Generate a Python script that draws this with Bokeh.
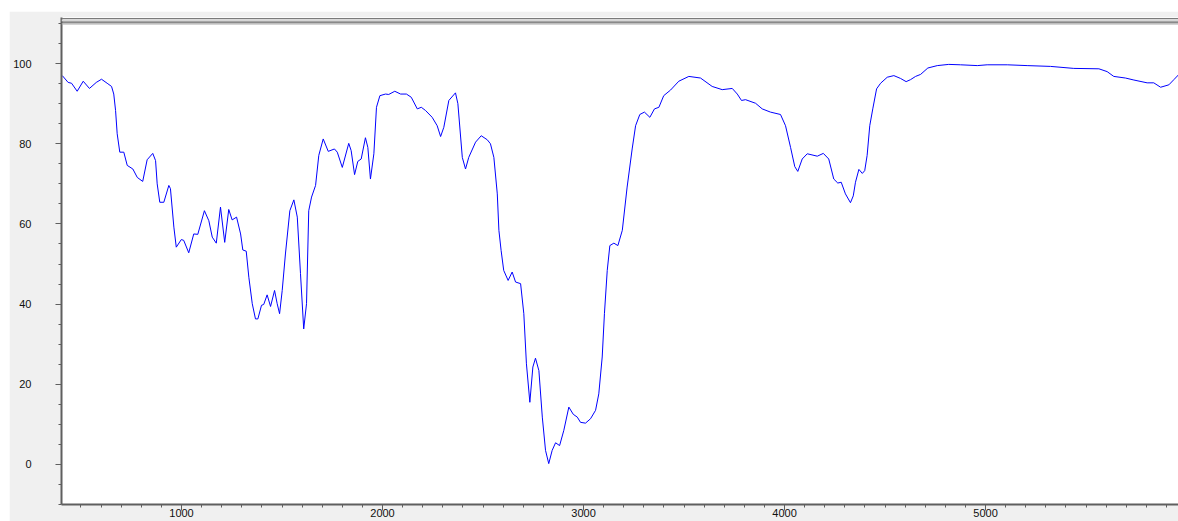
from bokeh.plotting import figure
from bokeh.models import Range1d, SingleIntervalTicker, Span, Spacer
from bokeh.layouts import column, row
from bokeh.embed import file_html
from bokeh.resources import INLINE

# Spectrum: wavenumber vs. transmittance (%)
wavenumber = [
    407, 436, 453, 481, 511, 542, 576, 602, 630, 652, 663, 672, 680, 693, 713, 730,
    758, 780, 807, 829, 857, 871, 879, 892, 912, 937, 945, 962, 974, 999, 1011, 1036,
    1061, 1081, 1114, 1136, 1153, 1173, 1194, 1215, 1235, 1252, 1274, 1294, 1305, 1322,
    1335, 1352, 1368, 1380, 1398, 1409, 1426, 1443, 1463, 1476, 1488, 1501, 1517, 1539,
    1559, 1576, 1592, 1608, 1622, 1633, 1647, 1667, 1683, 1705, 1730, 1761, 1775, 1800,
    1832, 1844, 1861, 1877, 1894, 1915, 1927, 1940, 1957, 1970, 1987, 2015, 2031, 2061,
    2090, 2119, 2143, 2173, 2193, 2214, 2247, 2272, 2289, 2305, 2330, 2363, 2375, 2397,
    2413, 2429, 2463, 2491, 2521, 2537, 2554, 2571, 2579, 2590, 2603, 2625, 2645, 2662,
    2687, 2703, 2716, 2733, 2748, 2761, 2778, 2795, 2811, 2827, 2844, 2861, 2881, 2902,
    2927, 2949, 2969, 2985, 3010, 3035, 3060, 3076, 3093, 3104, 3118, 3131, 3151, 3171,
    3193, 3217, 3242, 3259, 3280, 3303, 3330, 3353, 3375, 3399, 3433, 3474, 3524, 3582,
    3640, 3690, 3740, 3765, 3786, 3806, 3856, 3889, 3930, 3980, 4005, 4030, 4051, 4066,
    4088, 4113, 4163, 4193, 4220, 4245, 4265, 4282, 4303, 4328, 4342, 4353, 4370, 4387,
    4399, 4411, 4424, 4439, 4458, 4478, 4511, 4544, 4577, 4605, 4627, 4652, 4677, 4713,
    4760, 4817, 4876, 4959, 5008, 5108, 5207, 5323, 5439, 5564, 5605, 5638, 5696, 5738,
    5804, 5837, 5871, 5912, 5937, 5962,
]
transmittance = [
    97.0, 95.3, 95.1, 93.1, 95.6, 93.8, 95.3, 96.1, 95.1, 94.3, 92.4, 88.3, 82.5, 77.9, 77.9, 74.6,
    73.7, 71.6, 70.6, 76.0, 77.6, 75.8, 70.0, 65.4, 65.4, 69.6, 68.8, 59.2, 54.2, 56.1, 55.9, 52.8,
    57.5, 57.4, 63.3, 60.8, 56.7, 55.2, 64.2, 55.4, 63.6, 61.0, 61.7, 57.5, 53.5, 53.2,
    46.7, 40.1, 36.3, 36.3, 39.7, 39.9, 42.3, 39.4, 43.4, 40.1, 37.6, 43.4, 52.5, 63.3,
    66.0, 61.7, 47.6, 33.8, 40.1, 63.3, 66.7, 69.6, 77.1, 81.2, 78.1, 78.7, 77.9, 74.1,
    80.1, 78.3, 72.3, 75.6, 76.2, 81.5, 79.1, 71.2, 77.5, 89.1, 92.0, 92.4, 92.3, 93.1,
    92.4, 92.4, 91.6, 88.7, 89.1, 88.3, 86.6, 84.5, 81.8, 84.1, 90.8, 92.7, 90.0, 76.6,
    73.7, 76.6, 80.4, 82.0, 81.0, 80.0, 76.6, 67.5, 58.4, 53.4, 48.4, 45.9, 48.0, 45.5,
    45.1, 37.6, 25.1, 15.5, 24.3, 26.5, 23.4, 11.8, 3.5, 0.2, 3.5, 5.4, 4.7, 8.5,
    14.3, 12.5, 11.8, 10.5, 10.3, 11.4, 13.5, 17.6, 26.8, 37.6, 48.4, 54.6, 55.2, 54.6,
    58.4, 69.2, 78.7, 84.5, 87.3, 87.9, 86.6, 88.7, 89.1, 92.0, 93.4, 95.6, 96.8, 96.4,
    94.3, 93.5, 93.8, 92.4, 90.8, 91.0, 90.1, 88.7, 87.9, 87.3, 84.5, 79.1, 74.3, 73.1,
    76.2, 77.5, 76.9, 77.6, 76.2, 71.2, 70.2, 70.4, 67.5, 65.3, 67.0, 70.4, 73.6, 72.6,
    73.3, 77.1, 84.5, 88.7, 93.7, 95.1, 96.6, 97.0, 96.3, 95.5, 96.0, 96.8, 97.3, 98.9,
    99.5, 99.8, 99.7, 99.5, 99.7, 99.7, 99.5, 99.3, 98.8, 98.7, 98.0, 96.8, 96.4, 95.9,
    95.2, 95.2, 94.1, 94.7, 96.0, 97.3,
]

AXIS_GRAY = "#5f5f5f"
LABEL_FONT = "Liberation Sans"

p = figure(
    width=1169, height=510,
    output_backend="svg", toolbar_location=None,
    x_range=Range1d(403, 5960), y_range=Range1d(-10, 111.5),
    min_border_left=52, min_border_right=0, min_border_top=6, min_border_bottom=17,
    background_fill_color="white", border_fill_color="#f0f0f0",
    outline_line_color=None,
)
p.grid.visible = False

p.xaxis.ticker = SingleIntervalTicker(interval=1000, num_minor_ticks=10)
p.yaxis.ticker = SingleIntervalTicker(interval=20, num_minor_ticks=4)
for ax in (p.xaxis[0], p.yaxis[0]):
    ax.axis_line_color = AXIS_GRAY
    ax.axis_line_width = 2
    ax.major_tick_line_color = AXIS_GRAY
    ax.minor_tick_line_color = AXIS_GRAY
    ax.major_tick_in = 0
    ax.major_tick_out = 6
    ax.minor_tick_in = 0
    ax.minor_tick_out = 3
    ax.major_label_text_font = LABEL_FONT
    ax.major_label_text_font_size = "11px"
    ax.major_label_text_color = "#111111"

p.xaxis.major_label_standoff = -2
p.yaxis.major_label_standoff = 24

# double rule across the top of the plotting area
for loc, color, width in [(111.2, "#7a7a7a", 1.2), (110.75, "#d6d6d6", 2.0),
                          (110.35, "#626262", 1.4), (109.93, "#a9a9a9", 1.2)]:
    p.add_layout(Span(location=loc, dimension="width", line_color=color, line_width=width))

p.line(wavenumber, transmittance, line_color="#0000ff", line_width=1)

layout = column(Spacer(width=1178, height=11),
                row(Spacer(width=9, height=510), p))

open("out.html", "w").write(file_html(layout, INLINE))
